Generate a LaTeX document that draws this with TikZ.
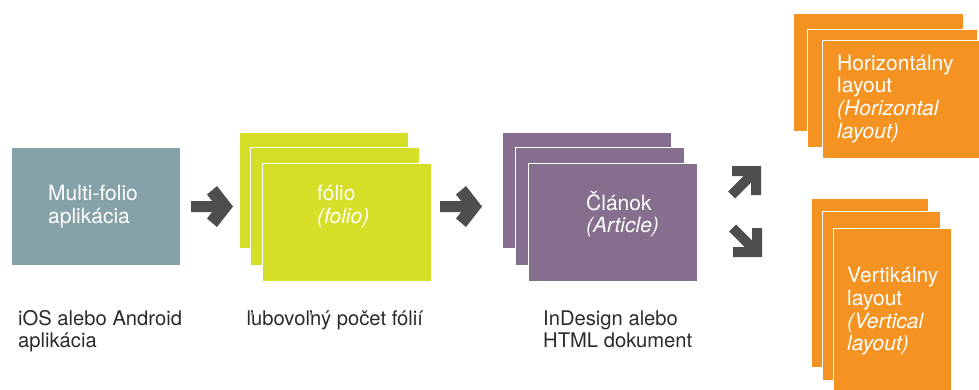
\documentclass[tikz,border=0pt]{standalone}
\usepackage{fontspec}
\setmainfont{TeX Gyre Heros}
\definecolor{appc}{HTML}{86A2A9}
\definecolor{folc}{HTML}{D5DF27}
\definecolor{artc}{HTML}{866E8F}
\definecolor{orc}{HTML}{F49322}
\definecolor{arrc}{HTML}{4D4E50}
\definecolor{labc}{HTML}{2B2B2B}
\begin{document}
\begin{tikzpicture}[x=1pt,y=-1pt,
  card/.style={draw=white,line width=0.9pt,anchor=north west,inner sep=0pt,outer sep=0pt},
  intext/.style={anchor=base west,inner sep=0pt,text=white,font=\fontsize{21}{22.8}\selectfont},
  labtext/.style={anchor=base west,inner sep=0pt,text=labc,font=\fontsize{20.2}{22.3}\selectfont},
  arrowfill/.style={fill=arrc}]
\useasboundingbox (0,0) rectangle (979,389);
\clip (0,0) rectangle (979,389);
% stage 1
\node[card,fill=appc,minimum width=169pt,minimum height=118pt] (app) at (11,147) {};
\node[intext] (apptext) at (48,200.5) {\vtop{\hbox{Multi-folio}\hbox{aplikácia}}};
\node[labtext] (applab) at (18,325) {\vtop{\hbox{iOS alebo Android}\hbox{aplikácia}}};
% arrow 1
\begin{scope}[shift={(233,206.5)}]
\fill[arrowfill] (-42,-5.5) -- (-20.9,-5.5) -- (-26,-12) -- (-16,-20.5) -- (0,0) -- (-16,20.5) -- (-26,12) -- (-20.9,5.5) -- (-42,5.5) -- cycle;
\end{scope}
% folio stack
\node[card,fill=folc,minimum width=169pt,minimum height=116pt] (fol1) at (239,132.5) {};
\node[card,fill=folc,minimum width=169pt,minimum height=118pt] (fol2) at (250,147) {};
\node[card,fill=folc,minimum width=169pt,minimum height=118pt] (fol3) at (262,163) {};
\node[intext] (foltext) at (317,200.5) {\vtop{\hbox{fólio}\hbox{\itshape (folio)}}};
\node[labtext] (follab) at (246.5,325) {ľubovoľný počet fólií};
% arrow 2
\begin{scope}[shift={(482,206.5)}]
\fill[arrowfill] (-42,-5.5) -- (-20.9,-5.5) -- (-26,-12) -- (-16,-20.5) -- (0,0) -- (-16,20.5) -- (-26,12) -- (-20.9,5.5) -- (-42,5.5) -- cycle;
\end{scope}
% article stack
\node[card,fill=artc,minimum width=169pt,minimum height=116pt] (art1) at (502,132) {};
\node[card,fill=artc,minimum width=169pt,minimum height=118pt] (art2) at (515,147) {};
\node[card,fill=artc,minimum width=169pt,minimum height=118pt] (art3) at (528,163) {};
\node[intext] (arttext) at (586,210) {\vtop{\hbox{Článok}\hbox{\itshape (Article)}}};
\node[labtext] (artlab) at (543,325) {\vtop{\hbox{InDesign alebo}\hbox{HTML dokument}}};
% diagonal arrows
\fill[arrowfill] (732,166) -- (761,166) -- (761,195) -- (751,195) -- (751,182.5) -- (735,198.5) -- (728,191.5) -- (743.5,176) -- (732,176) -- cycle;
\fill[arrowfill] (733,257) -- (762,257) -- (762,228) -- (752,228) -- (752,240.5) -- (736,224.5) -- (729,231.5) -- (744.5,247) -- (733,247) -- cycle;
% horizontal layout stack
\node[card,fill=orc,minimum width=170pt,minimum height=118pt] (hor1) at (793,13) {};
\node[card,fill=orc,minimum width=170pt,minimum height=118pt] (hor2) at (807,29) {};
\node[card,fill=orc,minimum width=170pt,minimum height=118pt] (hor3) at (822,40) {};
\node[intext] (hortext) at (837,70) {\vtop{\hbox{Horizontálny}\hbox{layout}\hbox{\itshape (Horizontal}\hbox{\itshape layout)}}};
% vertical layout stack
\node[card,fill=orc,minimum width=117pt,minimum height=169pt] (ver1) at (811,198) {};
\node[card,fill=orc,minimum width=118pt,minimum height=169pt] (ver2) at (822,211) {};
\node[card,fill=orc,minimum width=118pt,minimum height=169pt] (ver3) at (833,228) {};
\node[intext] (vertext) at (847,282.5) {\vtop{\hbox{Vertikálny}\hbox{layout}\hbox{\itshape (Vertical}\hbox{\itshape layout)}}};
\end{tikzpicture}
\end{document}
